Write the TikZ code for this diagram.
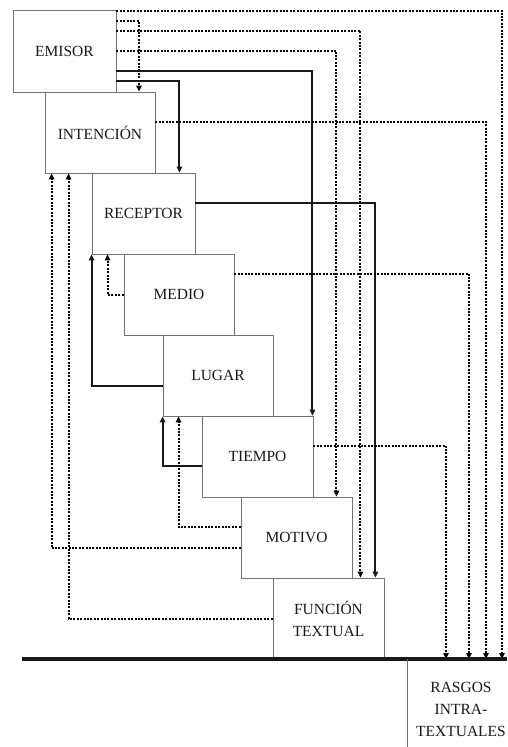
\documentclass[tikz,border=0pt]{standalone}
\usepackage{fontspec}
\setmainfont{Liberation Serif}
\usetikzlibrary{arrows.meta}
\begin{document}
\begin{tikzpicture}[
		x=1pt, y=-1pt,
		box/.style={draw=black!55, line width=0.9pt, minimum width=110pt, minimum height=81pt, inner sep=2pt, align=center, text=black!90, font=\fontsize{15.5}{22}\selectfont},
		strong/.style={line width=2pt, draw=black!90, -{Triangle[length=6pt, width=5.5pt]}},
		weak/.style={line width=2pt, draw=black, dash pattern=on 2pt off 1.4pt, -{Triangle[length=6pt, width=5.5pt]}},
	]
	\useasboundingbox (0,0) rectangle (507,747);

	\node[box, minimum width=103pt, minimum height=82pt] (emisor) at (64.5, 51) {EMISOR};
	\node[box] (intencion) at (100, 132.5) {INTENCIÓN};
	\node[box, minimum width=103pt] (receptor) at (143.5, 213.5) {RECEPTOR};
	\node[box] (medio) at (179, 294.5) {MEDIO};
	\node[box] (lugar) at (218, 375.5) {LUGAR};
	\node[box, minimum width=111pt] (tiempo) at (257.5, 456.5) {TIEMPO};
	\node[box, minimum width=111pt] (motivo) at (296.5, 537.5) {MOTIVO};
	\node[box, minimum width=111pt] (funcion) at (328.5, 618.5) {FUNCIÓN\\TEXTUAL};

	\coordinate (baseL) at (22, 659);
	\coordinate (baseR) at (507, 659);
	\coordinate (lane1) at (502, 659);
	\coordinate (lane2) at (486, 659);
	\coordinate (lane3) at (469, 659);
	\coordinate (lane4) at (446, 659);
	\coordinate (rasgosTop) at (407, 659);
	\node[align=center, text=black!90, font=\fontsize{15.5}{22}\selectfont] (rasgos) at (461, 709) {RASGOS\\INTRA-\\TEXTUALES};

	% forward connections
	\draw[weak] ([yshift=-1pt]emisor.north east) -| (lane1);
	\draw[weak] ([yshift=-11pt]emisor.north east) -| ([xshift=39pt]intencion.north);
	\draw[weak] ([yshift=-21pt]emisor.north east) -| ([xshift=-24pt]funcion.north east);
	\draw[weak] ([yshift=-41pt]emisor.north east) -| ([xshift=-16pt]motivo.north east);
	\draw[strong] ([yshift=-61pt]emisor.north east) -| ([xshift=-1pt]tiempo.north east);
	\draw[strong] ([yshift=-71pt]emisor.north east) -| ([xshift=-16pt]receptor.north east);
	\draw[weak] ([yshift=-30pt]intencion.north east) -| (lane2);
	\draw[strong] ([yshift=-30pt]receptor.north east) -| ([xshift=-9pt]funcion.north east);
	\draw[weak] ([yshift=-20pt]medio.north east) -| (lane3);
	\draw[weak] ([yshift=-30pt]tiempo.north east) -| (lane4);

	% backward connections
	\draw[weak] ([yshift=30pt]motivo.south west) -| ([xshift=7pt]intencion.south west);
	\draw[weak] (funcion.west) -| ([xshift=24pt]intencion.south west);
	\draw[strong] ([yshift=30pt]lugar.south west) -| (receptor.south west);
	\draw[weak] (medio.west) -| ([xshift=16pt]receptor.south west);
	\draw[strong] ([yshift=31pt]tiempo.south west) -| (lugar.south west);
	\draw[weak] ([yshift=51pt]motivo.south west) -| ([xshift=16pt]lugar.south west);

	\draw[line width=3.5pt, black!90] (baseL) -- (baseR);
	\draw[draw=black!55, line width=0.9pt] (rasgosTop) -- ++(0, 88);
\end{tikzpicture}
\end{document}
